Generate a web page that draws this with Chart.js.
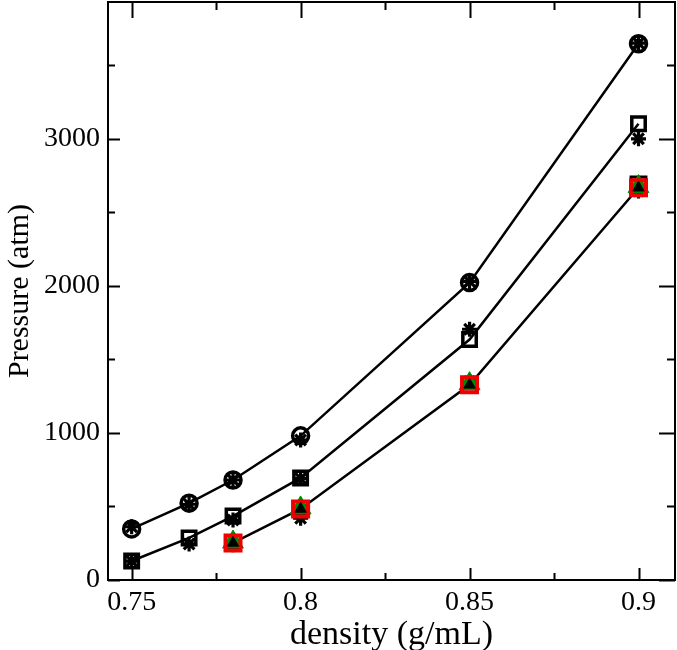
<!DOCTYPE html>
<html>
<head>
<meta charset="utf-8">
<script src="https://cdn.jsdelivr.net/npm/chart.js@4/dist/chart.umd.min.js"></script>
<style>
  body { margin: 0; background: #fff; }
  canvas { display: block; }
</style>
</head>
<body>
<canvas id="pressureChart" width="677" height="650"></canvas>
<script>
// densities (g/mL)
const density = [0.75, 0.767, 0.78, 0.8, 0.85, 0.9];
const lowDensity = [0.78, 0.8, 0.85, 0.9];

// pressures (atm)
const circleP = [347, 522, 680, 980, 2022, 3646];
const circleStarP = [362, 515, 680, 952, 2030, 3650];
const squareP = [129, 286, 435, 694, 1635, 3102];
const squareStarP = [129, 245, 408, 690, 1705, 3000];
const lowSquareP = [252, 483, 1327, 2690];
const redSquareP = [252, 483, 1327, 2667];
const greenTriP = [258, 490, 1335, 2675];
const blackTriP = [252, 483, 1327, 2667];
const lowStarP = [240, 420, 1350, 2645];

// axis ticks
const xMajor = [0.75, 0.8, 0.85, 0.9];
const xMinor = [0.775, 0.825, 0.875];
const yMajor = [0, 1000, 2000, 3000];
const yMinor = [500, 1500, 2500, 3500];

function pts(xs, ys) {
    return xs.map((x, i) => ({ x: x, y: ys[i] }));
}

function markers(xs, ys, style, radius, opts) {
    return Object.assign({
        data: pts(xs, ys),
        showLine: false,
        pointStyle: style,
        pointRadius: radius,
        pointBorderColor: '#000',
        pointBackgroundColor: 'rgba(0,0,0,0)',
        pointBorderWidth: 3
    }, opts || {});
}

function curve(xs, ys) {
    return {
        data: pts(xs, ys),
        showLine: true,
        borderColor: '#000',
        borderWidth: 2.5,
        pointRadius: 0,
        tension: 0
    };
}

// frame with inward ticks on all four sides
const frameTicks = {
    id: 'frameTicks',
    beforeDatasetsDraw(chart) {
        const { ctx, chartArea: a, scales: { x, y } } = chart;
        ctx.save();
        ctx.strokeStyle = '#000';
        ctx.lineWidth = 2;
        ctx.beginPath();
        const xt = (list, lenB, lenT) => list.forEach(v => {
            const px = Math.round(x.getPixelForValue(v)) + 0.5;
            ctx.moveTo(px, a.bottom); ctx.lineTo(px, a.bottom - lenB);
            ctx.moveTo(px, a.top); ctx.lineTo(px, a.top + lenT);
        });
        const yt = (list, lenL, lenR) => list.forEach(v => {
            const py = Math.round(y.getPixelForValue(v)) + 0.5;
            ctx.moveTo(a.left, py); ctx.lineTo(a.left + lenL, py);
            ctx.moveTo(a.right, py); ctx.lineTo(a.right - lenR, py);
        });
        xt(xMajor, 12, 16); xt(xMinor, 7, 8);
        yt(yMajor, 12, 16); yt(yMinor, 7, 8);
        ctx.stroke();
        ctx.strokeRect(a.left, a.top, a.right - a.left, a.bottom - a.top);
        ctx.restore();
    }
};

const serif = 'Liberation Serif';

// keep the plot frame fixed: no extra room for edge tick labels
function noPad(s) {
    s.paddingLeft = 0;
    s.paddingRight = 0;
    s.paddingTop = 0;
    s.paddingBottom = 0;
}

const star = { pointBorderWidth: 3.2 };

new Chart(document.getElementById('pressureChart'), {
    type: 'scatter',
    data: {
        datasets: [
            markers(lowDensity, blackTriP, 'triangle', 6.5, { pointBackgroundColor: '#000', pointBorderWidth: 1 }),
            markers(lowDensity, redSquareP, 'rect', 10.6, { pointBorderColor: '#f00000', pointBorderWidth: 4 }),
            markers(lowDensity, greenTriP, 'triangle', 12, { pointBorderColor: '#008a00', pointBackgroundColor: '#008a00', pointBorderWidth: 1 }),
            markers(lowDensity, lowSquareP, 'rect', 10.5),
            markers(lowDensity, lowStarP, 'star', 7.5, star),
            markers(density, squareStarP, 'star', 7.5, star),
            markers(density, circleStarP, 'star', 7.5, star),
            markers(density, squareP, 'rect', 9.5, { pointBorderWidth: 3.5 }),
            markers(density, circleP, 'circle', 8, { pointBorderWidth: 3.5 }),
            curve(density, circleP),
            curve(density, squareP),
            curve(lowDensity, redSquareP)
        ]
    },
    options: {
        responsive: false,
        animation: false,
        layout: { autoPadding: false, padding: { left: 0, right: 2, top: 2, bottom: 0 } },
        plugins: {
            legend: { display: false },
            tooltip: { enabled: false }
        },
        scales: {
            x: {
                type: 'linear',
                min: 0.743,
                max: 0.9108,
                afterBuildTicks: s => { s.ticks = xMajor.map(v => ({ value: v })); },
                afterFit: s => { s.height = 70; noPad(s); },
                grid: { display: false, drawTicks: false },
                border: { display: false },
                ticks: {
                    padding: 6,
                    color: '#000',
                    font: { family: serif, size: 28 },
                    callback: v => String(v)
                },
                title: {
                    display: true,
                    text: 'density (g/mL)',
                    color: '#000',
                    font: { family: serif, size: 34, lineHeight: 1 },
                    padding: { top: 0, bottom: -2 }
                }
            },
            y: {
                type: 'linear',
                min: 0,
                max: 3930,
                afterBuildTicks: s => { s.ticks = yMajor.map(v => ({ value: v })); },
                afterFit: s => { s.width = 108; noPad(s); },
                grid: { display: false, drawTicks: false },
                border: { display: false },
                ticks: {
                    padding: 8,
                    color: '#000',
                    font: { family: serif, size: 28 },
                    callback: v => String(v)
                },
                title: {
                    display: true,
                    text: 'Pressure (atm)',
                    color: '#000',
                    font: { family: serif, size: 30 },
                    padding: { top: 2, bottom: 0 }
                }
            }
        }
    },
    plugins: [frameTicks]
});
</script>
</body>
</html>
